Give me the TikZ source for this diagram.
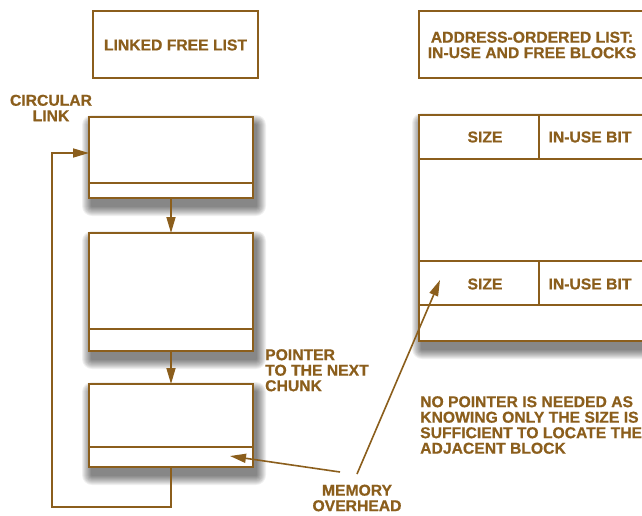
\documentclass[tikz,border=0pt]{standalone}
\usepackage{fontspec}
\setmainfont{Liberation Sans}[BoldFeatures={FakeBold=0.6}]
\usetikzlibrary{arrows.meta,calc,backgrounds}
\definecolor{gold}{RGB}{139,94,28}
\begin{document}
\begin{tikzpicture}[x=1pt,y=-1pt,
  txt/.style={text=gold,font=\bfseries\fontsize{15.7}{15.5}\selectfont,inner sep=0pt},
  box/.style={draw=gold,line width=2pt,fill=white,inner sep=0pt,outer sep=0pt},
  chunk/.style={box},
  sep/.style={draw=gold,line width=2pt},
  conn/.style={draw=gold,line width=1.6pt},
  tip/.style={-{Triangle[width=9pt,length=16pt]}},
  shad/.style={fill=black,fill opacity=0.06}
]
\useasboundingbox (0,0) rectangle (642,515);
\begin{scope}
\clip (0,0) rectangle (642,515);
% titles
\node[box,minimum width=165pt,minimum height=67pt,anchor=north west] (t1) at (93,11) {};
\node[txt] (t1txt) at (175.5,45) {LINKED FREE LIST};
\node[box,minimum width=260pt,minimum height=67pt,anchor=north west] (t2) at (419,11) {};
\node[txt,align=center] (t2txt) at (532,45) {ADDRESS-ORDERED LIST:\\IN-USE AND FREE BLOCKS};
% linked chunks
\node[chunk,minimum width=164pt,minimum height=81pt,anchor=north west] (b1) at (89,117) {};
\draw[sep] (b1.west |- 0,183) -- (b1.east |- 0,183);
\node[chunk,minimum width=164pt,minimum height=118pt,anchor=north west] (b2) at (89,233) {};
\draw[sep] (b2.west |- 0,329) -- (b2.east |- 0,329);
\node[chunk,minimum width=164pt,minimum height=83pt,anchor=north west] (b3) at (89,384) {};
\draw[sep] (b3.west |- 0,447) -- (b3.east |- 0,447);
% right block
\node[chunk,minimum width=262pt,minimum height=226pt,anchor=north west] (rb) at (419,115) {};
\draw[sep] (rb.west |- 0,159) -- (rb.east |- 0,159);
\draw[sep] (rb.west |- 0,261) -- (rb.east |- 0,261);
\draw[sep] (rb.west |- 0,305) -- (rb.east |- 0,305);
\draw[sep] (539,115) -- (539,159);
\draw[sep] (539,261) -- (539,305);
\node[txt] (s1) at (485,137) {SIZE};
\node[txt] (u1) at (590,137) {IN-USE BIT};
\node[txt] (s2) at (485,284) {SIZE};
\node[txt] (u2) at (590,284) {IN-USE BIT};
% shadows
\begin{pgfonlayer}{background}
\fill[white] (0,0) rectangle (642,515);
\foreach \b in {b1,b2,b3,rb}{
  \foreach \i in {1,...,10}{
    \fill[shad,rounded corners=\i pt] ($(\b.north west)+(3-\i,8-\i)$) rectangle ($(\b.south east)+(3+\i,8+\i)$);
  }
}
\end{pgfonlayer}
% connectors
\draw[conn,tip] (b1.south) -- (b2.north);
\draw[conn,tip] (b2.south) -- (b3.north);
\coordinate (c1) at (52,507);
\coordinate (c2) at (52,153);
\draw[conn,tip] (b3.south) -- (b3.south |- c1) -- (c1) -- (c2) -- (b1.west |- c2);
% labels
\node[txt,align=center] (cl) at (51,108) {CIRCULAR\\LINK};
\node[txt,align=left,anchor=north west] (ptr) at (265,349) {POINTER\\TO THE NEXT\\CHUNK};
\node[txt,align=center] (mem) at (357,498) {MEMORY\\OVERHEAD};
\node[txt,align=left,anchor=north west] (np) at (420,396) {NO POINTER IS NEEDED AS\\KNOWING ONLY THE SIZE IS\\SUFFICIENT TO LOCATE THE\\ADJACENT BLOCK};
\coordinate (m1) at (340,472);
\coordinate (p1) at (230,456);
\coordinate (m2) at (357,474);
\coordinate (p2) at (440,280);
\draw[conn,tip] (m1) -- (p1);
\draw[conn,tip] (m2) -- (p2);
\end{scope}
\end{tikzpicture}
\end{document}
